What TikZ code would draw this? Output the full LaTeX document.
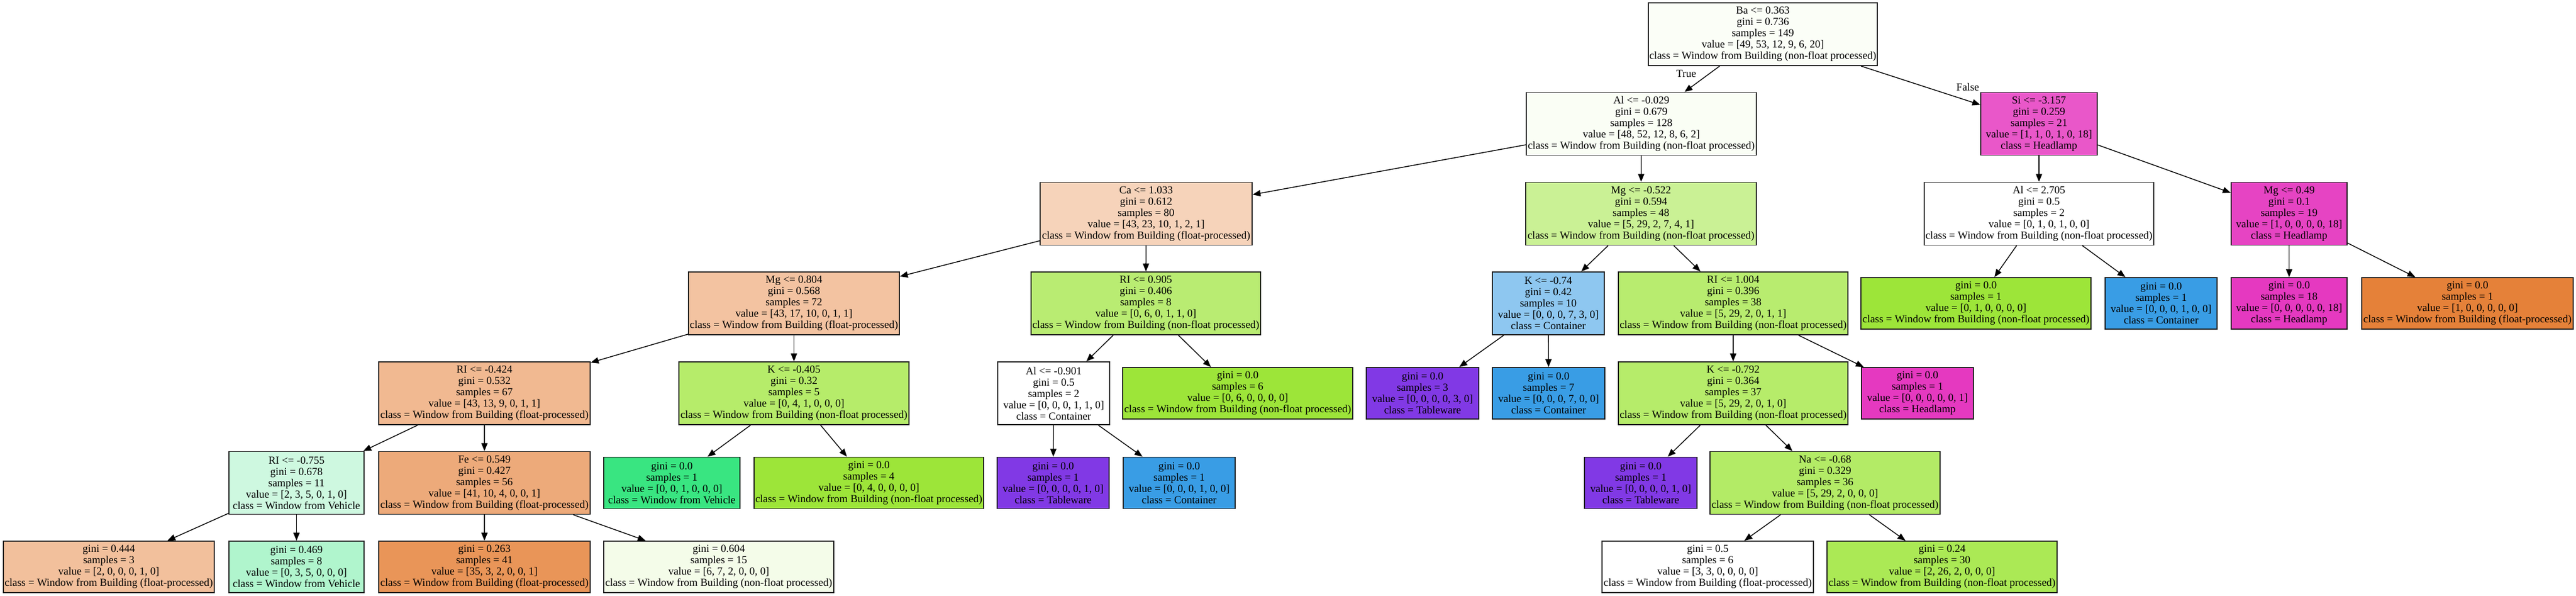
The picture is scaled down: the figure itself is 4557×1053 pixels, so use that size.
\documentclass[tikz,border=0pt]{standalone}
\usepackage{fontspec}
\setmainfont{Liberation Serif}
\usetikzlibrary{arrows.meta}

\tikzset{every picture/.style={line width=1.5pt}}
\tikzset{
  split/.style={draw={rgb, 255:red, 30; green, 30; blue, 30}, line width=1.8pt, align=center, inner sep=1pt, minimum height=111pt, font=\fontsize{19}{20}\selectfont},
  leaf/.style={split, minimum height=91pt},
  edge/.style={-{Triangle[length=14pt,width=11pt]}, line width=1.5pt},
  floatc/.style={fill={rgb, 255:red, 229; green, 129; blue, 57}},
  nonfloatc/.style={fill={rgb, 255:red, 157; green, 229; blue, 57}},
  vehiclec/.style={fill={rgb, 255:red, 57; green, 229; blue, 129}},
  containerc/.style={fill={rgb, 255:red, 57; green, 157; blue, 229}},
  tablewarec/.style={fill={rgb, 255:red, 129; green, 57; blue, 229}},
  headlampc/.style={fill={rgb, 255:red, 229; green, 57; blue, 192}},
  edgelabel/.style={font=\fontsize{19}{20}\selectfont}
}

\begin{document}
\begin{tikzpicture}[x=1pt,y=1pt,yscale=-1,xscale=1]
\useasboundingbox (0,0) rectangle (4557,1053);

%Split Nodes
\node [split, minimum width=405pt, fill={rgb, 255:red, 251; green, 254; blue, 247}] (ba) at (3118.5,60.5) {Ba <= 0.363\\gini = 0.736\\samples = 149\\value = [49, 53, 12, 9, 6, 20]\\class = Window from Building (non-float processed)};
\node [split, minimum width=407pt, fill={rgb, 255:red, 250; green, 254; blue, 245}] (alA) at (2903.5,219) {Al <= -0.029\\gini = 0.679\\samples = 128\\value = [48, 52, 12, 8, 6, 2]\\class = Window from Building (non-float processed)};
\node [split, minimum width=206pt, fill={rgb, 255:red, 233; green, 87; blue, 201}] (si) at (3607,219) {Si <= -3.157\\gini = 0.259\\samples = 21\\value = [1, 1, 0, 1, 0, 18]\\class = Headlamp};
\node [split, minimum width=375pt, fill={rgb, 255:red, 246; green, 211; blue, 186}] (ca) at (2027.5,378) {Ca <= 1.033\\gini = 0.612\\samples = 80\\value = [43, 23, 10, 1, 2, 1]\\class = Window from Building (float-processed)};
\node [split, minimum width=408pt, fill={rgb, 255:red, 202; green, 241; blue, 149}] (mgA) at (2903,378) {Mg <= -0.522\\gini = 0.594\\samples = 48\\value = [5, 29, 2, 7, 4, 1]\\class = Window from Building (non-float processed)};
\node [split, minimum width=406pt, fill=white] (alB) at (3607,378) {Al <= 2.705\\gini = 0.5\\samples = 2\\value = [0, 1, 0, 1, 0, 0]\\class = Window from Building (non-float processed)};
\node [split, minimum width=205pt, fill={rgb, 255:red, 230; green, 68; blue, 195}] (mgB) at (4049.5,378) {Mg <= 0.49\\gini = 0.1\\samples = 19\\value = [1, 0, 0, 0, 0, 18]\\class = Headlamp};
\node [split, minimum width=373pt, fill={rgb, 255:red, 243; green, 195; blue, 161}] (mgC) at (1404.5,536.5) {Mg <= 0.804\\gini = 0.568\\samples = 72\\value = [43, 17, 10, 0, 1, 1]\\class = Window from Building (float-processed)};
\node [split, minimum width=406pt, fill={rgb, 255:red, 185; green, 236; blue, 114}] (riA) at (2027,536.5) {RI <= 0.905\\gini = 0.406\\samples = 8\\value = [0, 6, 0, 1, 1, 0]\\class = Window from Building (non-float processed)};
\node [split, minimum width=198pt, fill={rgb, 255:red, 142; green, 199; blue, 240}] (kA) at (2739,536.5) {K <= -0.74\\gini = 0.42\\samples = 10\\value = [0, 0, 0, 7, 3, 0]\\class = Container};
\node [split, minimum width=406pt, fill={rgb, 255:red, 184; green, 236; blue, 111}] (riB) at (3066,536.5) {RI <= 1.004\\gini = 0.396\\samples = 38\\value = [5, 29, 2, 0, 1, 1]\\class = Window from Building (non-float processed)};
\node [split, minimum width=374pt, fill={rgb, 255:red, 241; green, 185; blue, 145}] (riC) at (857,695.5) {RI <= -0.424\\gini = 0.532\\samples = 67\\value = [43, 13, 9, 0, 1, 1]\\class = Window from Building (float-processed)};
\node [split, minimum width=407pt, fill={rgb, 255:red, 182; green, 236; blue, 106}] (kB) at (1404.5,695.5) {K <= -0.405\\gini = 0.32\\samples = 5\\value = [0, 4, 1, 0, 0, 0]\\class = Window from Building (non-float processed)};
\node [split, minimum width=198pt, fill=white] (alC) at (1864,695.5) {Al <= -0.901\\gini = 0.5\\samples = 2\\value = [0, 0, 0, 1, 1, 0]\\class = Container};
\node [split, minimum width=406pt, fill={rgb, 255:red, 182; green, 236; blue, 106}] (kC) at (3066,695.5) {K <= -0.792\\gini = 0.364\\samples = 37\\value = [5, 29, 2, 0, 1, 0]\\class = Window from Building (non-float processed)};
\node [split, minimum width=239pt, fill={rgb, 255:red, 206; green, 248; blue, 224}] (riD) at (524.5,854) {RI <= -0.755\\gini = 0.678\\samples = 11\\value = [2, 3, 5, 0, 1, 0]\\class = Window from Vehicle};
\node [split, minimum width=374pt, fill={rgb, 255:red, 237; green, 170; blue, 122}] (fe) at (857,854) {Fe <= 0.549\\gini = 0.427\\samples = 56\\value = [41, 10, 4, 0, 0, 1]\\class = Window from Building (float-processed)};
\node [split, minimum width=407pt, fill={rgb, 255:red, 179; green, 235; blue, 102}] (na) at (3228.5,854) {Na <= -0.68\\gini = 0.329\\samples = 36\\value = [5, 29, 2, 0, 0, 0]\\class = Window from Building (non-float processed)};

% Leaf Nodes
\node [leaf, nonfloatc, minimum width=407pt] (lfA) at (3495.5,536.5) {gini = 0.0\\samples = 1\\value = [0, 1, 0, 0, 0, 0]\\class = Window from Building (non-float processed)};
\node [leaf, containerc, minimum width=198pt] (lfB) at (3823,536.5) {gini = 0.0\\samples = 1\\value = [0, 0, 0, 1, 0, 0]\\class = Container};
\node [leaf, headlampc, minimum width=205pt] (lfC) at (4049.5,536.5) {gini = 0.0\\samples = 18\\value = [0, 0, 0, 0, 0, 18]\\class = Headlamp};
\node [leaf, floatc, minimum width=374pt] (lfD) at (4365,536.5) {gini = 0.0\\samples = 1\\value = [1, 0, 0, 0, 0, 0]\\class = Window from Building (float-processed)};
\node [leaf, nonfloatc, minimum width=407pt] (lfE) at (2189.5,695.5) {gini = 0.0\\samples = 6\\value = [0, 6, 0, 0, 0, 0]\\class = Window from Building (non-float processed)};
\node [leaf, tablewarec, minimum width=199pt] (lfF) at (2516.5,695.5) {gini = 0.0\\samples = 3\\value = [0, 0, 0, 0, 3, 0]\\class = Tableware};
\node [leaf, containerc, minimum width=199pt] (lfG) at (2739.5,695.5) {gini = 0.0\\samples = 7\\value = [0, 0, 0, 7, 0, 0]\\class = Container};
\node [leaf, headlampc, minimum width=198pt] (lfH) at (3392,695.5) {gini = 0.0\\samples = 1\\value = [0, 0, 0, 0, 0, 1]\\class = Headlamp};
\node [leaf, vehiclec, minimum width=241pt] (lfI) at (1188.5,854) {gini = 0.0\\samples = 1\\value = [0, 0, 1, 0, 0, 0]\\class = Window from Vehicle};
\node [leaf, nonfloatc, minimum width=406pt] (lfJ) at (1537,854) {gini = 0.0\\samples = 4\\value = [0, 4, 0, 0, 0, 0]\\class = Window from Building (non-float processed)};
\node [leaf, tablewarec, minimum width=198pt] (lfK) at (1863,854) {gini = 0.0\\samples = 1\\value = [0, 0, 0, 0, 1, 0]\\class = Tableware};
\node [leaf, containerc, minimum width=198pt] (lfL) at (2086,854) {gini = 0.0\\samples = 1\\value = [0, 0, 0, 1, 0, 0]\\class = Container};
\node [leaf, tablewarec, minimum width=199pt] (lfM) at (2902.5,854) {gini = 0.0\\samples = 1\\value = [0, 0, 0, 0, 1, 0]\\class = Tableware};
\node [leaf, minimum width=373pt, fill={rgb, 255:red, 242; green, 192; blue, 156}] (lfN) at (192.5,1002.5) {gini = 0.444\\samples = 3\\value = [2, 0, 0, 0, 1, 0]\\class = Window from Building (float-processed)};
\node [leaf, minimum width=239pt, fill={rgb, 255:red, 176; green, 245; blue, 205}] (lfO) at (524.5,1002.5) {gini = 0.469\\samples = 8\\value = [0, 3, 5, 0, 0, 0]\\class = Window from Vehicle};
\node [leaf, minimum width=374pt, fill={rgb, 255:red, 233; green, 149; blue, 88}] (lfP) at (857,1002.5) {gini = 0.263\\samples = 41\\value = [35, 3, 2, 0, 0, 1]\\class = Window from Building (float-processed)};
\node [leaf, minimum width=407pt, fill={rgb, 255:red, 244; green, 252; blue, 233}] (lfQ) at (1271.5,1002.5) {gini = 0.604\\samples = 15\\value = [6, 7, 2, 0, 0, 0]\\class = Window from Building (non-float processed)};
\node [leaf, minimum width=374pt, fill=white] (lfR) at (3021,1002.5) {gini = 0.5\\samples = 6\\value = [3, 3, 0, 0, 0, 0]\\class = Window from Building (float-processed)};
\node [leaf, minimum width=407pt, fill={rgb, 255:red, 171; green, 233; blue, 85}] (lfS) at (3435.5,1002.5) {gini = 0.24\\samples = 30\\value = [2, 26, 2, 0, 0, 0]\\class = Window from Building (non-float processed)};

% Text Node
\node [edgelabel] (truelab) at (2983,130) {True};
% Text Node
\node [edgelabel] (falselab) at (3481,154) {False};

%Edges
\draw [edge] (ba) -- (alA);
\draw [edge] (ba) -- (si);
\draw [edge] (alA) -- (ca);
\draw [edge] (alA) -- (mgA);
\draw [edge] (si) -- (alB);
\draw [edge] (si) -- (mgB);
\draw [edge] (ca) -- (mgC);
\draw [edge] (ca) -- (riA);
\draw [edge] (mgA) -- (kA);
\draw [edge] (mgA) -- (riB);
\draw [edge] (alB) -- (lfA);
\draw [edge] (alB) -- (lfB);
\draw [edge] (mgB) -- (lfC);
\draw [edge] (mgB) -- (lfD);
\draw [edge] (mgC) -- (riC);
\draw [edge] (mgC) -- (kB);
\draw [edge] (riA) -- (alC);
\draw [edge] (riA) -- (lfE);
\draw [edge] (kA) -- (lfF);
\draw [edge] (kA) -- (lfG);
\draw [edge] (riB) -- (kC);
\draw [edge] (riB) -- (lfH);
\draw [edge] (riC) -- (riD);
\draw [edge] (riC) -- (fe);
\draw [edge] (kB) -- (lfI);
\draw [edge] (kB) -- (lfJ);
\draw [edge] (alC) -- (lfK);
\draw [edge] (alC) -- (lfL);
\draw [edge] (kC) -- (lfM);
\draw [edge] (kC) -- (na);
\draw [edge] (riD) -- (lfN);
\draw [edge] (riD) -- (lfO);
\draw [edge] (fe) -- (lfP);
\draw [edge] (fe) -- (lfQ);
\draw [edge] (na) -- (lfR);
\draw [edge] (na) -- (lfS);

\end{tikzpicture}
\end{document}
